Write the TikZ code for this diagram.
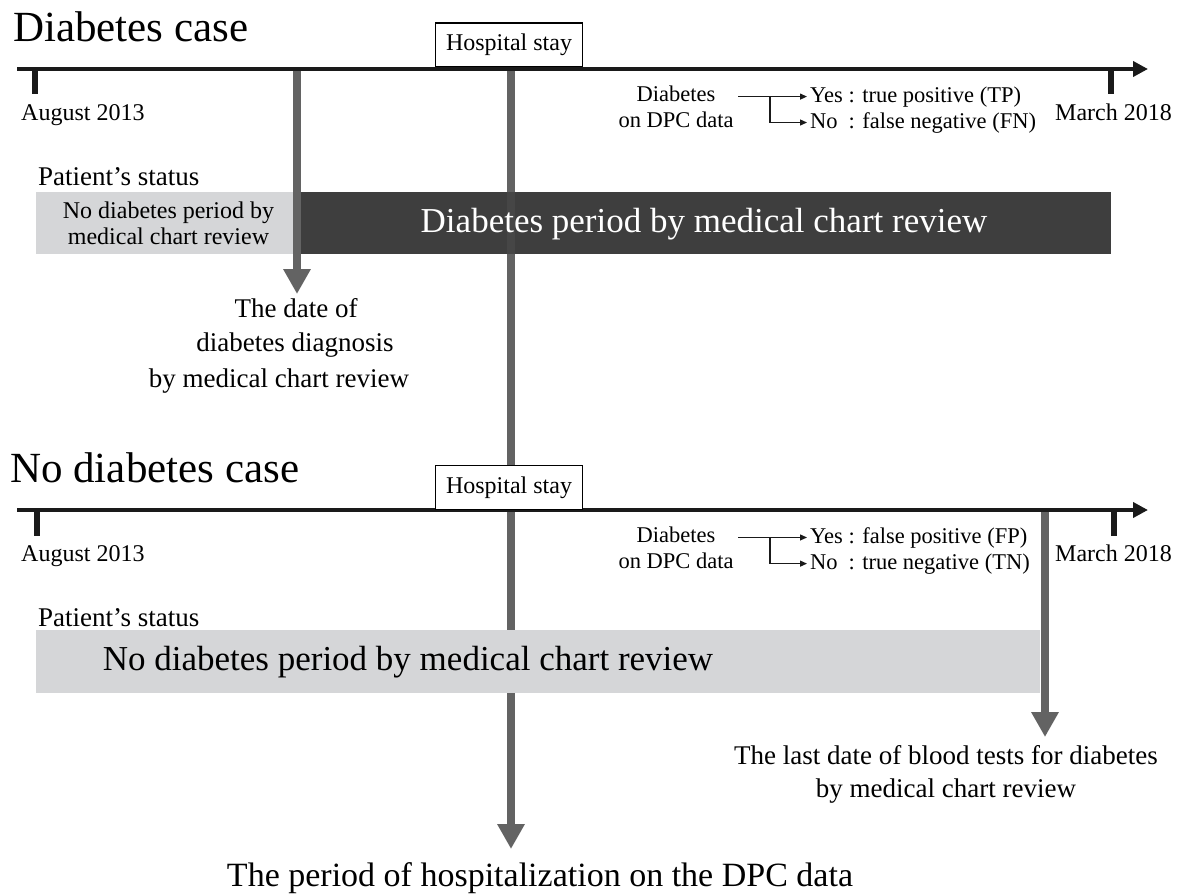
\documentclass[tikz,border=0pt]{standalone}
\usepackage{fontspec}
\setmainfont{Liberation Serif}
\usetikzlibrary{arrows.meta}
\definecolor{darkbar}{HTML}{3E3E3E}
\definecolor{lightbar}{HTML}{D5D6D8}
\definecolor{arrowgray}{HTML}{636363}
\definecolor{lineblack}{HTML}{1A1A1A}
\newcommand{\fsz}[1]{\fontsize{#1pt}{#1pt}\selectfont}
\begin{document}
\begin{tikzpicture}[x=1pt,y=-1pt,
  timeline/.style={draw=lineblack, line width=4pt, -{Triangle[length=15pt,width=15pt]}},
  tickmark/.style={draw=lineblack, line width=5.5pt},
  grayarrow/.style={draw=arrowgray, line width=8pt, -{Triangle[length=25pt,width=26pt]}},
  smallarrow/.style={draw=lineblack, line width=1.2pt, -{Triangle[length=7pt,width=6pt]}},
  hosp/.style={draw=black, line width=1.2pt, fill=white, minimum width=147pt, minimum height=44pt, inner sep=0pt, font=\fsz{24}},
  bar/.style={draw=none, inner sep=0pt},
  txt/.style={inner sep=0pt, text=black},
  small/.style={txt, font=\fsz{22.5}},
  mid/.style={txt, font=\fsz{24}},
  big/.style={txt, font=\fsz{27}},
  huge/.style={txt, font=\fsz{35}},
  title/.style={txt, font=\fsz{43}}]
\useasboundingbox (0,0) rectangle (1183,894);

% hospital stay line (behind everything)
\coordinate (hx) at (511,0);
\node[hosp] (hosp1) at (509,45) {Hospital stay};
\coordinate (hend) at (511,849);
\draw[grayarrow] (hosp1.south -| hx) -- (hend);

% status bars
\node[bar, fill=lightbar, minimum width=265pt, minimum height=62pt] (nobar1) at (168.5,223) {};
\node[bar, fill=darkbar, minimum width=810pt, minimum height=62pt] (dbar1) at (706,223) {};
\begin{scope}
  \clip (dbar1.north west) rectangle (dbar1.south east);
  \draw[grayarrow, draw opacity=0.22] (hosp1.south -| hx) -- (hend);
\end{scope}
\node[bar, fill=lightbar, minimum width=1004pt, minimum height=63pt] (nobar2) at (538,661.5) {};

\node[txt, align=center, font=\fontsize{24pt}{26pt}\selectfont] (nobar1t) at (nobar1.center) {No diabetes period by\\medical chart review};
\node[huge, text=white] (dbar1t) at (704,224) {Diabetes period by medical chart review};
\node[huge] (nobar2t) at (408,662) {No diabetes period by medical chart review};

% event arrows
\coordinate (dg1) at (297,69);
\coordinate (dg2) at (297,294);
\draw[grayarrow] (dg1) -- (dg2);
\coordinate (ld1) at (1045,510);
\coordinate (ld2) at (1045,737);
\draw[grayarrow] (ld1) -- (ld2);

% timelines
\coordinate (t1a) at (17,69);
\coordinate (t1b) at (1148,69);
\draw[timeline] (t1a) -- (t1b);
\coordinate (k1a) at (35,69);  \coordinate (k1b) at (35,94);
\coordinate (k2a) at (1111,69); \coordinate (k2b) at (1111,94);
\draw[tickmark] (k1a) -- (k1b);
\draw[tickmark] (k2a) -- (k2b);

\coordinate (t2a) at (17,510);
\coordinate (t2b) at (1148,510);
\draw[timeline] (t2a) -- (t2b);
\coordinate (k3a) at (37,510);  \coordinate (k3b) at (37,536);
\coordinate (k4a) at (1114,510); \coordinate (k4b) at (1114,536);
\draw[tickmark] (k3a) -- (k3b);
\draw[tickmark] (k4a) -- (k4b);

\node[hosp] (hosp2) at (509,487.5) {Hospital stay};

% ---------- Diabetes case ----------
\node[title, anchor=base west] (title1) at (13,41) {Diabetes case};
\node[mid, anchor=base west] (aug1) at (21,120) {August 2013};
\node[mid, anchor=base west] (mar1) at (1055,120) {March 2018};
\node[small, anchor=base] (dpcA1) at (676,101) {Diabetes};
\node[small, anchor=base] (dpcB1) at (676,127) {on DPC data};
\node[small, anchor=base west] (yes1) at (810,102) {Yes : true positive (TP)};
\node[small, anchor=base west] (no1) at (810,128) {\rlap{No}\phantom{Yes} : false negative (FN)};
\coordinate (xa) at (738,0);
\coordinate (xb) at (770,0);
\draw[smallarrow] (yes1.west -| xa) -- ([xshift=-3pt]yes1.west);
\draw[smallarrow] (yes1.west -| xb) |- ([xshift=-3pt]no1.west);
\node[big, anchor=base west] (ps1) at (38,185) {Patient’s status};
\node[big, anchor=base] (dg1t) at (296,317) {The date of};
\node[big, anchor=base] (dg2t) at (295,351) {diabetes diagnosis};
\node[big, anchor=base] (dg3t) at (279,387) {by medical chart review};

% ---------- No diabetes case ----------
\node[title, anchor=base west] (title2) at (10,482) {No diabetes case};
\node[mid, anchor=base west] (aug2) at (21,561) {August 2013};
\node[mid, anchor=base west] (mar2) at (1055,561) {March 2018};
\node[small, anchor=base] (dpcA2) at (676,542) {Diabetes};
\node[small, anchor=base] (dpcB2) at (676,568) {on DPC data};
\node[small, anchor=base west] (yes2) at (810,543) {Yes : false positive (FP)};
\node[small, anchor=base west] (no2) at (810,569) {\rlap{No}\phantom{Yes} : true negative (TN)};
\draw[smallarrow] (yes2.west -| xa) -- ([xshift=-3pt]yes2.west);
\draw[smallarrow] (yes2.west -| xb) |- ([xshift=-3pt]no2.west);
\node[big, anchor=base west] (ps2) at (38,626) {Patient’s status};
\node[big, anchor=base] (last1) at (946,764) {The last date of blood tests for diabetes};
\node[big, anchor=base] (last2) at (946,797) {by medical chart review};

\node[txt, font=\fsz{34}, anchor=base] (period) at (540,886) {The period of hospitalization on the DPC data};
\end{tikzpicture}
\end{document}
